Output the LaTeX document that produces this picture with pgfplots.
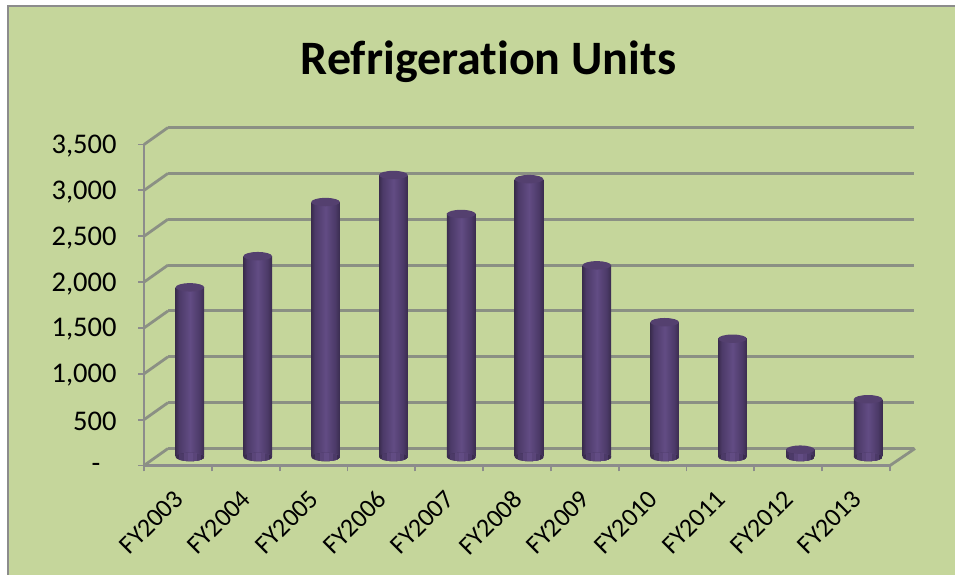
\documentclass[border=0pt]{standalone}
\usepackage{fontspec}
\setmainfont[Ligatures=NoCommon]{Carlito}
\usepackage{pgfplots}
\pgfplotsset{compat=1.18}

\definecolor{panel}{HTML}{C5D69B}
\definecolor{gridgray}{HTML}{8B9084}
\definecolor{frame}{HTML}{8C8C8C}
\definecolor{capcol}{HTML}{54406F}
\definecolor{cylA}{HTML}{3A2C4E}
\definecolor{cylB}{HTML}{4C3A68}
\definecolor{cylC}{HTML}{5A4579}
\definecolor{cylD}{HTML}{624C84}

% side to side shading of the cylinders
\pgfdeclarehorizontalshading{cylshade}{100bp}{
  color(0bp)=(cylA);
  color(25bp)=(cylA);
  color(31bp)=(cylB);
  color(50bp)=(cylD);
  color(67bp)=(cylB);
  color(75bp)=(cylA);
  color(100bp)=(cylA)}

\pgfdeclareplotmark{cyltop}{%
  \pgfpathellipse{\pgfpointorigin}{\pgfpoint{14.3pt}{0pt}}{\pgfpoint{0pt}{4.2pt}}%
  \pgfusepathqfill}

% base of a cylinder: painted in strips, each one running on to the right edge
\newcommand\cylstrip[2]{%
  \pgfsetfillcolor{#1}%
  \pgfpathrectanglecorners{\pgfpoint{#2pt}{-5pt}}{\pgfpoint{15pt}{5pt}}%
  \pgfusepathqfill}
\pgfdeclareplotmark{cylbase}{%
  \pgfscope
  \pgfpathellipse{\pgfpointorigin}{\pgfpoint{14.3pt}{0pt}}{\pgfpoint{0pt}{4.2pt}}%
  \pgfusepathqclip
  \cylstrip{cylA}{-15}\cylstrip{cylB}{-11}\cylstrip{cylC}{-6}\cylstrip{cylD}{-2}%
  \cylstrip{cylC}{3}\cylstrip{cylB}{7}\cylstrip{cylA}{11}%
  \endpgfscope}

\pgfplotsset{
  base/.style={
    anchor=origin, x=67.82pt, y=0.0917pt,
    xmin=0, xmax=11, ymin=0, ymax=3500,
    clip=false,
    scale only axis,
    ytick={0,500,...,3500},
    xtick={0,...,11},
  },
  plain/.style={
    base,
    axis line style={draw=none},
    major tick length=0pt,
    xticklabels={}, yticklabels={},
  },
  cyl/.style={ybar, bar width=28.6pt, draw=none, shading=cylshade, shading angle=0},
}

\begin{document}
\begin{tikzpicture}[x=1pt,y=1pt]
\useasboundingbox (0,0) rectangle (955,575);
\fill[white] (0,0) rectangle (955,575);
\fill[panel] (8,0) rectangle (955,569);
\draw[frame,line width=2.5pt] (8,0) -- (8,569) -- (955,569);
\node[font=\fontsize{48}{48}\selectfont\bfseries,anchor=center] at (488.5,513) {Refrigeration Units};

% back wall
\begin{axis}[plain, at={(168pt,126.5pt)},
    ymajorgrids, grid style={gridgray,line width=3pt},
    xtick=\empty]
\end{axis}

% front edges, ticks and labels
\begin{axis}[base, at={(144pt,109.5pt)},
    axis x line*=bottom, axis y line*=left,
    axis line style={frame,line width=2.6pt,-},
    tick style={frame,line width=1.8pt},
    tick align=outside, major tick length=6pt,
    xtick pos=bottom, ytick pos=left,
    x tick label as interval,
    xticklabels={FY2003,FY2004,FY2005,FY2006,FY2007,FY2008,FY2009,FY2010,FY2011,FY2012,FY2013},
    xticklabel style={font=\fontsize{26}{26}\selectfont,rotate=45,anchor=north east,xshift=-12.6pt,yshift=-4.8pt},
    yticklabel style={font=\fontsize{28.5}{28.5}\selectfont,xshift=-18pt,yshift=-1.5pt},
    scaled y ticks=false,
    yticklabel={\ifdim\tick pt=0pt \raisebox{-6pt}[0pt][0pt]{\mbox{-\kern16pt}}\else\pgfmathprintnumber[assume math mode=true,1000 sep={,}]{\tick}\fi},
  ]
  \pgfplotsinvokeforeach{0,500,...,3500}{
    \draw[gridgray,line width=2.8pt] (axis cs:0,#1) -- ++(24pt,17pt);
  }
  \draw[gridgray,line width=2.8pt] (axis cs:11,0) -- ++(25pt,17pt);
\end{axis}

% cylinders, half way into the depth
\begin{axis}[plain, at={(156pt,118pt)}, xtick=\empty, ytick=\empty]
  \addplot[only marks, mark=cylbase] coordinates {
    (0.5,0) (1.5,0) (2.5,0) (3.5,0) (4.5,0) (5.5,0) (6.5,0) (7.5,0) (8.5,0) (9.5,0) (10.5,0)};
  \addplot[cyl] coordinates {(0.5,1850)};
  \addplot[cyl] coordinates {(1.5,2190)};
  \addplot[cyl] coordinates {(2.5,2780)};
  \addplot[cyl] coordinates {(3.5,3075)};
  \addplot[cyl] coordinates {(4.5,2650)};
  \addplot[cyl] coordinates {(5.5,3030)};
  \addplot[cyl] coordinates {(6.5,2090)};
  \addplot[cyl] coordinates {(7.5,1470)};
  \addplot[cyl] coordinates {(8.5,1290)};
  \addplot[cyl] coordinates {(9.5,80)};
  \addplot[cyl] coordinates {(10.5,630)};
  \addplot[only marks, mark=cyltop, mark options={fill=capcol, draw=none}, color=capcol]
    coordinates {(0.5,1850) (1.5,2190) (2.5,2780) (3.5,3075) (4.5,2650) (5.5,3030)
                 (6.5,2090) (7.5,1470) (8.5,1290) (9.5,80) (10.5,630)};
\end{axis}
\end{tikzpicture}
\end{document}
